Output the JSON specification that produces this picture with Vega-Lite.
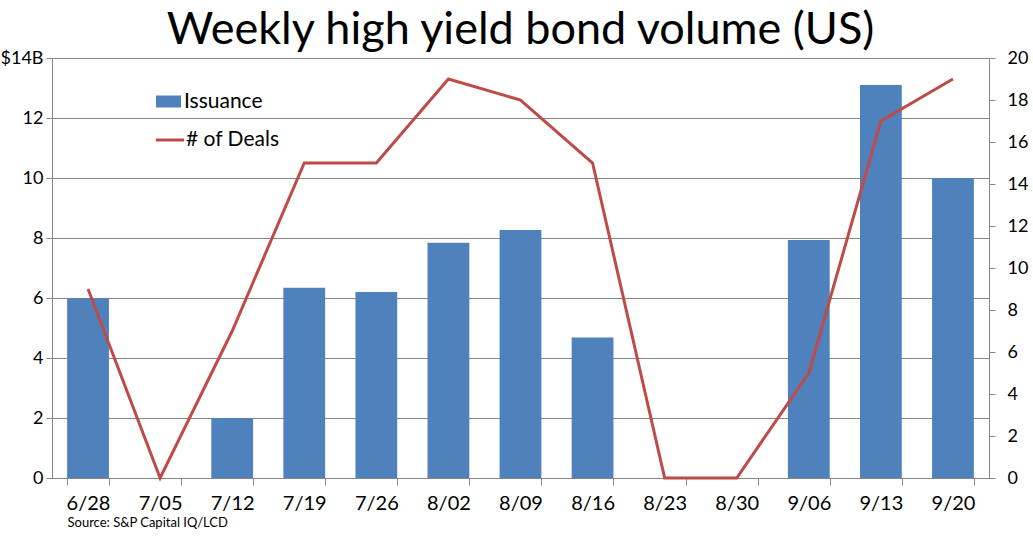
{
  "$schema": "https://vega.github.io/schema/vega-lite/v6.json",
  "width": 937,
  "height": 420,
  "autosize": {"type": "none"},
  "padding": {"left": 52, "top": 58, "right": 44, "bottom": 60},
  "background": "white",
  "config": {
    "font": "Lato",
    "view": {"stroke": null},
    "axis": {"labelFont": "Lato", "labelColor": "black", "domainColor": "#868686", "tickColor": "#868686", "gridColor": "#868686"}
  },
  "title": {
    "text": "Weekly high yield bond volume (US)",
    "fontSize": 45,
    "font": "Lato",
    "fontWeight": "normal",
    "color": "black",
    "anchor": "middle",
    "offset": -4
  },
  "data": {
    "values": [
      {"week": "6/28", "issuance": 6.0, "deals": 9},
      {"week": "7/05", "issuance": 0, "deals": 0},
      {"week": "7/12", "issuance": 2.0, "deals": 7},
      {"week": "7/19", "issuance": 6.34, "deals": 15},
      {"week": "7/26", "issuance": 6.2, "deals": 15},
      {"week": "8/02", "issuance": 7.84, "deals": 19},
      {"week": "8/09", "issuance": 8.27, "deals": 18},
      {"week": "8/16", "issuance": 4.68, "deals": 15},
      {"week": "8/23", "issuance": 0, "deals": 0},
      {"week": "8/30", "issuance": 0, "deals": 0},
      {"week": "9/06", "issuance": 7.93, "deals": 5},
      {"week": "9/13", "issuance": 13.1, "deals": 17},
      {"week": "9/20", "issuance": 10.0, "deals": 19}
    ]
  },
  "encoding": {
    "x": {
      "field": "week",
      "type": "nominal",
      "sort": null,
      "scale": {"paddingInner": 0.42, "paddingOuter": 0.21},
      "axis": {
        "title": "Source: S&P Capital IQ/LCD",
        "titleFont": "Lato",
        "titleFontSize": 13,
        "titleFontWeight": "normal",
        "titleColor": "black",
        "titleAnchor": "start",
        "titleX": 15,
        "titleY": 38,
        "labelAngle": 0,
        "labelFontSize": 20,
        "labelPadding": 8,
        "tickBand": "extent",
        "tickSize": 7,
        "domainColor": "#868686"
      }
    }
  },
  "layer": [
    {
      "mark": {"type": "bar", "fill": "#4F81BD"},
      "encoding": {
        "y": {
          "field": "issuance",
          "type": "quantitative",
          "scale": {"domain": [0, 14], "nice": false},
          "axis": {
            "title": null,
            "values": [0, 2, 4, 6, 8, 10, 12, 14],
            "labelExpr": "datum.value == 14 ? '$14B' : datum.label",
            "labelFontSize": 18,
            "labelPadding": 3,
            "tickSize": 6,
            "grid": true,
            "gridColor": "#868686"
          }
        },
        "fill": {
          "datum": "Issuance",
          "scale": {"range": ["#4F81BD"]},
          "legend": {
            "title": null,
            "orient": "none",
            "legendX": 104,
            "legendY": 31,
            "symbolType": "M-1,-0.48H1V0.48H-1Z",
            "symbolSize": 625,
            "symbolStrokeWidth": 0,
            "labelFontSize": 21,
            "labelFont": "Lato",
            "labelColor": "black",
            "labelOffset": 3
          }
        }
      }
    },
    {
      "mark": {"type": "line", "strokeWidth": 3, "color": "#BE4B48"},
      "encoding": {
        "y": {
          "field": "deals",
          "type": "quantitative",
          "scale": {"domain": [0, 20], "nice": false},
          "axis": {
            "orient": "right",
            "title": null,
            "values": [0, 2, 4, 6, 8, 10, 12, 14, 16, 18, 20],
            "labelFontSize": 18,
            "labelPadding": 12,
            "tickSize": 6,
            "grid": false
          }
        },
        "stroke": {
          "datum": "# of Deals",
          "scale": {"range": ["#BE4B48"]},
          "legend": {
            "title": null,
            "orient": "none",
            "legendX": 102,
            "legendY": 66,
            "symbolType": "stroke",
            "symbolSize": 800,
            "symbolStrokeWidth": 3,
            "labelFontSize": 21,
            "labelFont": "Lato",
            "labelColor": "black",
            "labelOffset": 0
          }
        }
      }
    }
  ],
  "resolve": {"scale": {"y": "independent"}}
}
